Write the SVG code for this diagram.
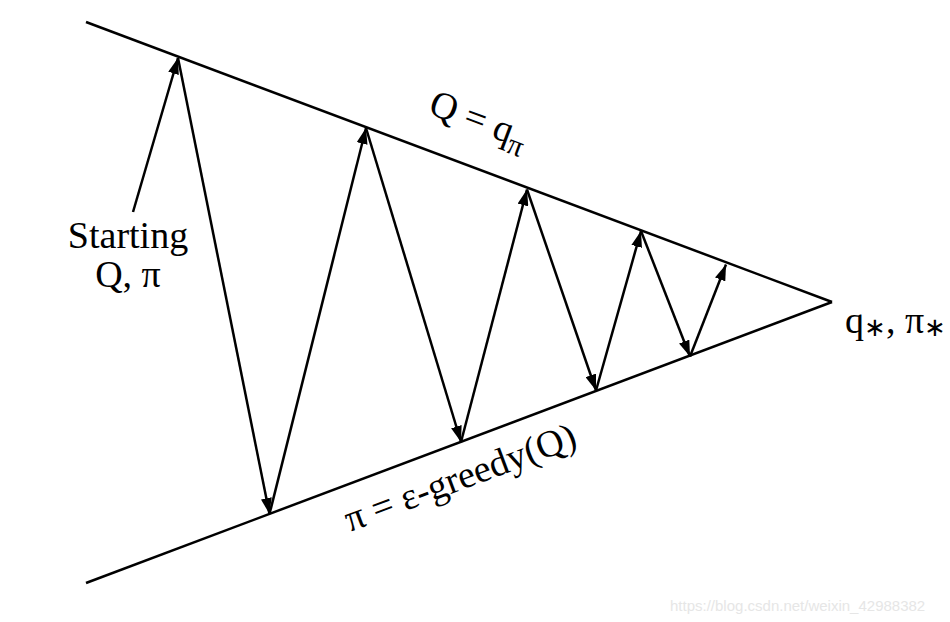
<svg xmlns="http://www.w3.org/2000/svg" width="950" height="622" viewBox="0 0 950 622">
<defs>
<marker id="ah" viewBox="0 0 16 11" refX="16" refY="5.5" markerWidth="16" markerHeight="11" markerUnits="userSpaceOnUse" orient="auto">
<path d="M0,0 L16,5.5 L0,11 Z" fill="#000"/>
</marker>
<style>
.ln{stroke:#000;stroke-width:2.5;fill:none}
.ar{stroke:#000;stroke-width:2.5;fill:none;marker-end:url(#ah)}
.t{font-family:"Liberation Serif","Times New Roman",serif;font-size:38px;fill:#000}
.wm{font-family:"Liberation Sans",Arial,sans-serif;font-size:15px;fill:#e6e6e6}
</style>
</defs>
<rect width="950" height="622" fill="#fff"/>
<g id="bounds">
<line class="ln" x1="86" y1="22" x2="832" y2="302"/>
<line class="ln" x1="86" y1="583" x2="832" y2="302"/>
</g>
<g id="connectors">
<line class="ar" x1="133" y1="212" x2="178" y2="58"/>
<line class="ar" x1="178" y1="58" x2="269.5" y2="514"/>
<line class="ar" x1="269.5" y1="514" x2="366" y2="128"/>
<line class="ar" x1="366" y1="128" x2="461" y2="442"/>
<line class="ar" x1="461" y1="442" x2="527" y2="189.5"/>
<line class="ar" x1="527" y1="189.5" x2="596" y2="390.5"/>
<line class="ar" x1="596" y1="390.5" x2="641" y2="231"/>
<line class="ar" x1="641" y1="231" x2="690" y2="356.5"/>
<line class="ar" x1="690" y1="356.5" x2="726" y2="264.5"/>
</g>
<g id="start-label">
<text class="t" x="128" y="248" text-anchor="middle">Starting</text>
<text class="t" x="128" y="287" text-anchor="middle">Q, π</text>
</g>
<g id="top-label">
<text class="t" transform="translate(427,113) rotate(20.6)">Q = q<tspan font-size="30" dy="9">π</tspan></text>
</g>
<g id="bottom-label">
<text class="t" transform="translate(350,532) rotate(-20.6)">π = ε-greedy(Q)</text>
</g>
<g id="end-label">
<text class="t" x="845" y="333">q<tspan font-size="26" dy="3">∗</tspan><tspan dy="-3">, π</tspan><tspan font-size="26" dy="3">∗</tspan></text>
</g>
<text class="wm" x="670" y="611">https://blog.csdn.net/weixin_42988382</text>
</svg>
